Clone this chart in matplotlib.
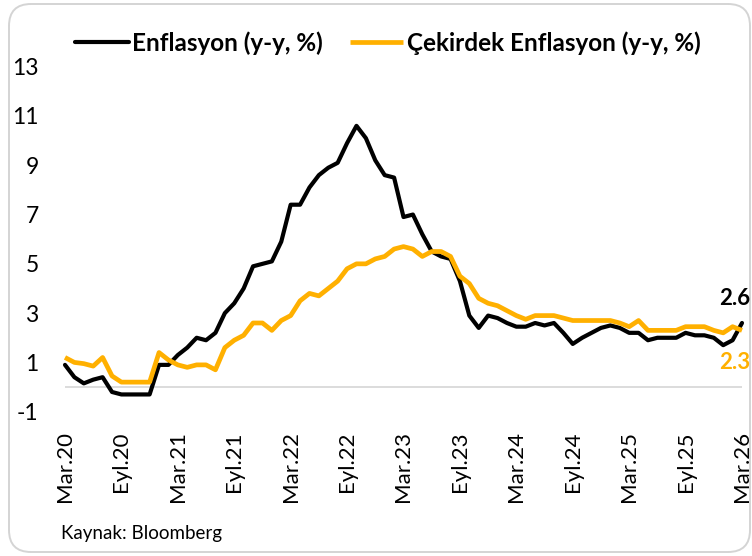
import matplotlib
matplotlib.use("Agg")
import matplotlib.pyplot as plt
from matplotlib.patches import FancyBboxPatch
from matplotlib.transforms import IdentityTransform

plt.rcParams['font.family'] = ['Lato', 'DejaVu Sans']

# Monthly data, Mar 2020 - Mar 2026
headline = [0.9, 0.4, 0.15, 0.3, 0.4, -0.2, -0.3, -0.3, -0.3, -0.3,
            0.9, 0.9, 1.3, 1.6, 2.0, 1.9, 2.2, 3.0, 3.4, 4.0, 4.9, 5.0,
            5.1, 5.9, 7.4, 7.4, 8.1, 8.6, 8.9, 9.1, 9.9, 10.6, 10.1, 9.2,
            8.6, 8.5, 6.9, 7.0, 6.2, 5.5, 5.3, 5.2, 4.3, 2.9, 2.4, 2.9,
            2.8, 2.6, 2.45, 2.45, 2.6, 2.5, 2.6, 2.2, 1.75, 2.0, 2.2, 2.4,
            2.5, 2.4, 2.2, 2.2, 1.9, 2.0, 2.0, 2.0, 2.2, 2.1, 2.1, 2.0,
            1.7, 1.9, 2.6]
core = [1.2, 1.0, 0.95, 0.85, 1.2, 0.45, 0.2, 0.2, 0.2, 0.2,
        1.4, 1.1, 0.9, 0.8, 0.9, 0.9, 0.7, 1.6, 1.9, 2.1, 2.6, 2.6,
        2.3, 2.7, 2.9, 3.5, 3.8, 3.7, 4.0, 4.3, 4.8, 5.0, 5.0, 5.2,
        5.3, 5.6, 5.7, 5.6, 5.3, 5.5, 5.5, 5.3, 4.5, 4.2, 3.6, 3.4,
        3.3, 3.1, 2.9, 2.75, 2.9, 2.9, 2.9, 2.8, 2.7, 2.7, 2.7, 2.7,
        2.7, 2.6, 2.45, 2.7, 2.3, 2.3, 2.3, 2.3, 2.45, 2.45, 2.45, 2.3,
        2.2, 2.45, 2.3]
tick_labels = ['Mar.20', 'Eyl.20', 'Mar.21', 'Eyl.21', 'Mar.22', 'Eyl.22',
               'Mar.23', 'Eyl.23', 'Mar.24', 'Eyl.24', 'Mar.25', 'Eyl.25', 'Mar.26']
series_names = ['Enflasyon (y-y, %)', 'Çekirdek Enflasyon (y-y, %)']
y_ticks = [-1, 1, 3, 5, 7, 9, 11, 13]
last_labels = ['2.6', '2.3']
source = 'Kaynak: Bloomberg'

BLACK = '#000000'
ORANGE = '#FFB000'

W, H = 752, 556
fig = plt.figure(figsize=(W / 100, H / 100), dpi=100)

# rounded outer frame
frame = FancyBboxPatch((9, 4), 741, 548, boxstyle="round,pad=0,rounding_size=22",
                       transform=IdentityTransform(), facecolor='none',
                       edgecolor='#d4d4d4', linewidth=1.4, zorder=-1)
fig.patches.append(frame)

ax = fig.add_axes([65 / W, (H - 411.7) / H, (742 - 65) / W, (411.7 - 66.7) / H])
ax.set_facecolor('none')
x = list(range(len(headline)))

ax.axhline(0, color='#d9d9d9', lw=1.3, zorder=1)
l1, = ax.plot(x, headline, color=BLACK, lw=3.0, solid_joinstyle='round',
              solid_capstyle='round', zorder=3, clip_on=False, label=series_names[0])
l2, = ax.plot(x, core, color=ORANGE, lw=3.4, solid_joinstyle='round',
              solid_capstyle='butt', zorder=4, clip_on=False, label=series_names[1])

ax.set_xlim(0, len(headline) - 1)
ax.set_ylim(-1, 13)
ax.set_xticks(list(range(0, len(headline), 6)))
ax.set_xticklabels(tick_labels, rotation=90, fontsize=16)
ax.set_yticks(y_ticks)
ax.set_yticklabels([str(v) for v in y_ticks], fontsize=16.5)
ax.tick_params(axis='x', length=0, pad=14)
ax.tick_params(axis='y', length=0, pad=19)
for s in ax.spines.values():
    s.set_visible(False)

ax.text(len(headline) - 1 + 0.85, 3.6, last_labels[0], color=BLACK, fontsize=16,
        fontweight='bold', ha='right', va='center', clip_on=False)
ax.text(len(headline) - 1 + 0.85, 1.0, last_labels[1], color=ORANGE, fontsize=16,
        fontweight='bold', ha='right', va='center', clip_on=False)

fig.legend(handles=[l1, l2], loc='center', bbox_to_anchor=(388 / W, 1 - 43 / H),
           ncol=2, frameon=False, handlelength=2.2, handletextpad=0.15,
           columnspacing=1.1, prop={'weight': 'bold', 'size': 17.5})

fig.text(61 / W, 1 - 534 / H, source, fontsize=13.5, ha='left', va='center')

fig.savefig('out.png', dpi=100)
